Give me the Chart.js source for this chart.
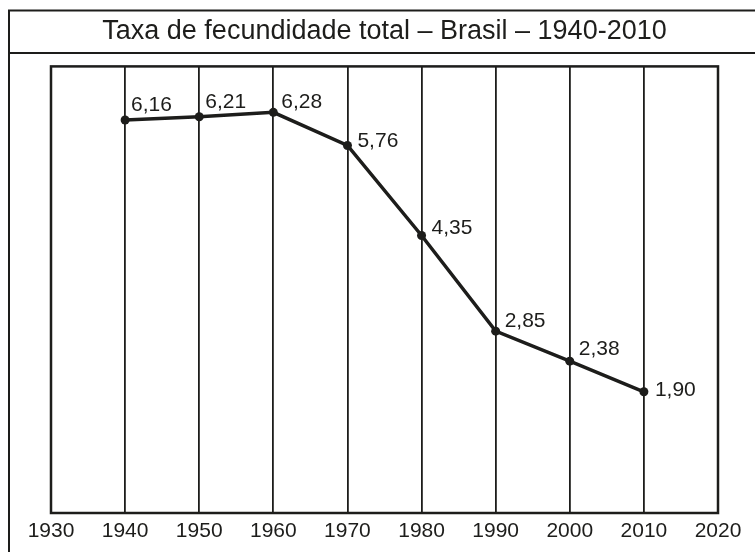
<!DOCTYPE html>
<html>
<head>
<meta charset="utf-8">
<script src="https://cdn.jsdelivr.net/npm/chart.js@4"></script>
<style>
  html, body { margin: 0; padding: 0; background: #fff; }
  #wrap { width: 755px; height: 552px; }
</style>
</head>
<body>
<div id="wrap"><canvas id="chart" width="755" height="552"></canvas></div>
<script>
"use strict";

const TITLE = "Taxa de fecundidade total \u2013 Brasil \u2013 1940-2010";
const YEARS = [1940, 1950, 1960, 1970, 1980, 1990, 2000, 2010];
const RATES = [6.16, 6.21, 6.28, 5.76, 4.35, 2.85, 2.38, 1.90];
const X_MIN = 1930, X_MAX = 2020, X_STEP = 10;
const Y_MIN = 0, Y_MAX = 7;

// label placement relative to each point: [dx, dy of baseline]
const LABEL_OFFSETS = [[6, -9], [6, -9], [8, -4], [10, 1], [10, -1], [9, -4], [9, -6], [11, 4]];

const INK = "#1d1d1b";
const FONT = "'Liberation Sans', Arial, sans-serif";

const framePlugin = {
  id: "frame",
  beforeDraw(chart) {
    const ctx = chart.ctx;
    ctx.save();
    ctx.strokeStyle = INK;
    ctx.lineWidth = 2;
    ctx.beginPath();
    ctx.moveTo(9, 552); ctx.lineTo(9, 10.5); ctx.lineTo(755, 10.5);
    ctx.moveTo(9, 53); ctx.lineTo(755, 53);
    ctx.stroke();
    ctx.restore();
  },
  afterDatasetsDraw(chart) {
    const ctx = chart.ctx;
    const a = chart.chartArea;
    ctx.save();
    ctx.strokeStyle = INK;
    ctx.lineWidth = 2.5;
    ctx.strokeRect(a.left, a.top, a.right - a.left, a.bottom - a.top);

    // value labels
    const meta = chart.getDatasetMeta(0);
    ctx.fillStyle = INK;
    ctx.font = "21px " + FONT;
    ctx.textAlign = "left";
    ctx.textBaseline = "alphabetic";
    meta.data.forEach((pt, i) => {
      const off = LABEL_OFFSETS[i];
      ctx.fillText(RATES[i].toFixed(2).replace(".", ","), pt.x + off[0], pt.y + off[1]);
    });
    ctx.restore();
  },
};

new Chart(document.getElementById("chart").getContext("2d"), {
  type: "line",
  data: {
    datasets: [{
      data: YEARS.map((y, i) => ({ x: y, y: RATES[i] })),
      borderColor: INK,
      backgroundColor: INK,
      borderWidth: 3.5,
      pointRadius: 4.5,
      pointBorderWidth: 0,
      pointBackgroundColor: INK,
      tension: 0,
    }],
  },
  options: {
    responsive: false,
    animation: false,
    layout: { padding: { top: 10, left: 51, right: 37, bottom: 0 } },
    plugins: {
      legend: { display: false },
      tooltip: { enabled: false },
      title: {
        display: true,
        text: TITLE,
        color: INK,
        font: { family: FONT, size: 27, weight: "normal" },
        padding: { top: 5, bottom: 19 },
      },
    },
    scales: {
      x: {
        type: "linear",
        min: X_MIN,
        max: X_MAX,
        afterFit(scale) { scale.height = 39; },
        ticks: {
          stepSize: X_STEP,
          autoSkip: false,
          maxRotation: 0,
          padding: 6,
          color: INK,
          font: { family: FONT, size: 21 },
          callback: v => String(v),
        },
        grid: { color: INK, lineWidth: 1.8, drawTicks: false },
        border: { display: false },
      },
      y: {
        type: "linear",
        min: Y_MIN,
        max: Y_MAX,
        display: false,
      },
    },
  },
  plugins: [framePlugin],
});
</script>
</body>
</html>
